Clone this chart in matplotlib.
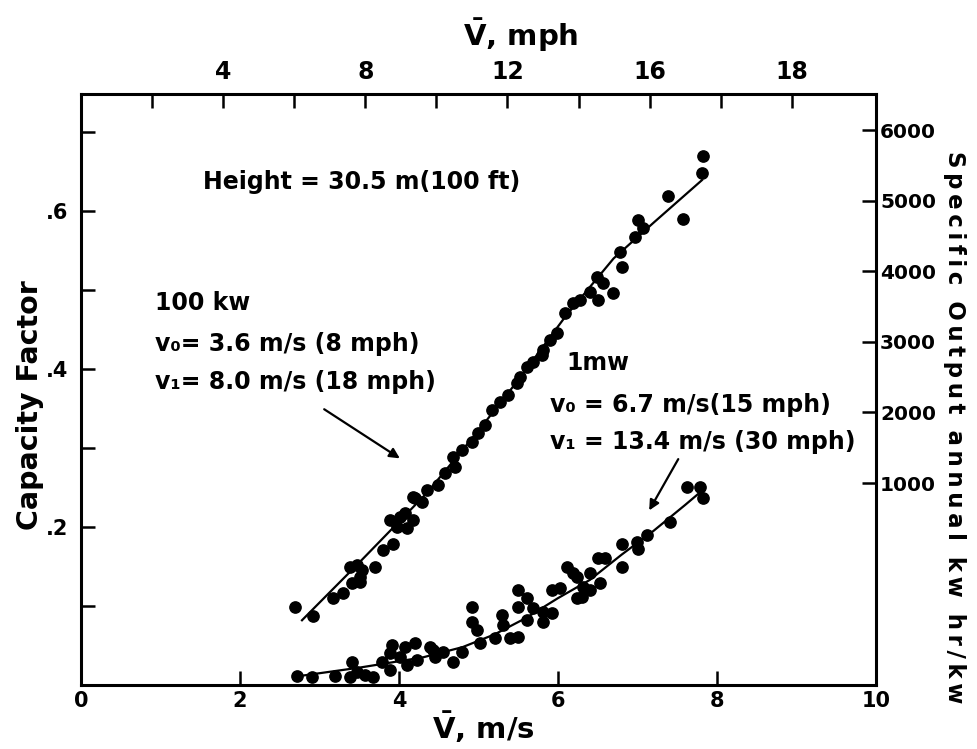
import matplotlib.pyplot as plt

# capacity factor vs mean wind speed
upper_x = [2.69, 2.92, 3.17, 3.30, 3.41, 3.51, 3.38, 3.47, 3.53, 3.70, 3.51, 3.80, 3.93,
           3.89, 3.97, 4.08, 4.18, 4.10, 4.20, 4.29, 4.35, 4.01, 4.18, 4.49, 4.58, 4.68,
           4.70, 4.79, 4.92, 5.00, 5.08, 5.17, 5.27, 5.37, 5.48, 5.52, 5.61, 5.69, 5.81,
           5.80, 5.90, 5.99, 6.09, 6.19, 6.28, 6.40, 6.50, 6.49, 6.57, 6.69, 6.78, 6.80,
           6.97, 7.01, 7.07, 7.38, 7.57, 7.81, 7.82]
upper_y = [0.099, 0.087, 0.110, 0.117, 0.129, 0.130, 0.149, 0.152, 0.146, 0.149, 0.137, 0.171, 0.178,
           0.209, 0.200, 0.218, 0.209, 0.199, 0.237, 0.232, 0.247, 0.213, 0.238, 0.253, 0.268, 0.289,
           0.276, 0.297, 0.308, 0.319, 0.329, 0.348, 0.358, 0.367, 0.382, 0.390, 0.403, 0.409, 0.424,
           0.418, 0.437, 0.446, 0.471, 0.483, 0.487, 0.497, 0.487, 0.516, 0.509, 0.496, 0.548, 0.529,
           0.567, 0.589, 0.578, 0.619, 0.590, 0.648, 0.670]

lower_x = [2.72, 2.91, 3.19, 3.41, 3.38, 3.47, 3.57, 3.67, 3.79, 3.89, 3.91, 3.89, 4.08,
           4.20, 4.10, 4.01, 4.23, 4.39, 4.45, 4.43, 4.55, 4.68, 4.79, 4.92, 4.92, 4.98,
           5.02, 5.21, 5.29, 5.31, 5.40, 5.50, 5.50, 5.50, 5.61, 5.61, 5.69, 5.81, 5.81,
           5.92, 5.92, 6.03, 6.11, 6.19, 6.24, 6.24, 6.32, 6.30, 6.40, 6.40, 6.53, 6.50,
           6.59, 6.80, 6.80, 6.99, 7.01, 7.12, 7.41, 7.62, 7.79, 7.83]
lower_y = [0.011, 0.010, 0.011, 0.029, 0.010, 0.016, 0.013, 0.010, 0.029, 0.019, 0.051, 0.041, 0.048,
           0.053, 0.025, 0.035, 0.032, 0.048, 0.035, 0.044, 0.042, 0.029, 0.042, 0.099, 0.080, 0.070,
           0.053, 0.059, 0.089, 0.076, 0.059, 0.120, 0.099, 0.061, 0.110, 0.082, 0.097, 0.080, 0.092,
           0.120, 0.091, 0.123, 0.149, 0.142, 0.110, 0.137, 0.124, 0.111, 0.142, 0.120, 0.129, 0.161,
           0.161, 0.178, 0.149, 0.181, 0.172, 0.190, 0.206, 0.251, 0.251, 0.237]

# hand drawn curves through the points
upper_fit_x = [2.78, 3.5, 4.35, 5.0, 5.5, 6.09, 6.7, 7.2, 7.81]
upper_fit_y = [0.082, 0.155, 0.243, 0.322, 0.386, 0.466, 0.540, 0.585, 0.639]
lower_fit_x = [2.72, 3.5, 4.3, 4.8, 5.2, 5.6, 6.0, 6.4, 6.8, 7.2, 7.6, 7.8]
lower_fit_y = [0.011, 0.022, 0.035, 0.048, 0.064, 0.085, 0.110, 0.133, 0.165, 0.195, 0.228, 0.245]

bottom_ticks = [0, 2, 4, 6, 8, 10]
left_ticks = [0.1, 0.2, 0.3, 0.4, 0.5, 0.6, 0.7]
left_labels = ['', '.2', '', '.4', '', '.6', '']
mph_ticks = [2, 4, 6, 8, 10, 12, 14, 16, 18, 20]
mph_labels = ['', '4', '', '8', '', '12', '', '16', '', '18']
kwh_ticks = [1000, 2000, 3000, 4000, 5000, 6000]


def tracked(s):
    # the scan uses wide letter spacing; thin spaces between letters, wider gaps between words
    return '  '.join('\u2009'.join(w) for w in s.split())


fig = plt.figure(figsize=(9.78, 7.49), dpi=100)
ax = fig.add_axes([0.0828, 0.0854, 0.8129, 0.789])

ax.plot(upper_fit_x, upper_fit_y, color='black', lw=1.6)
ax.plot(lower_fit_x, lower_fit_y, color='black', lw=1.6)
ax.scatter(upper_x, upper_y, s=66, color='black', zorder=3)
ax.scatter(lower_x, lower_y, s=66, color='black', zorder=3)

ax.set_xlim(0, 10)
ax.set_ylim(0, 0.748)
for sp in ax.spines.values():
    sp.set_linewidth(2.2)

ax.set_xticks(bottom_ticks)
ax.set_xticklabels([str(t) for t in bottom_ticks])
ax.set_yticks(left_ticks)
ax.set_yticklabels(left_labels)
ax.tick_params(axis='both', direction='in', length=10, width=1.8, labelsize=15, pad=4)
ax.tick_params(axis='y', pad=9)
for lab in ax.get_xticklabels() + ax.get_yticklabels():
    lab.set_fontweight('bold')

# top axis in mph (the last label reads 18 in the original)
top = ax.secondary_xaxis('top', functions=(lambda v: v / 0.44704, lambda v: v * 0.44704))
top.set_xticks(mph_ticks)
top.set_xticklabels(mph_labels)
top.tick_params(direction='in', length=10, width=1.8, pad=7)
for lab in top.get_xticklabels():
    lab.set_fontweight('bold')
    lab.set_fontsize(17)

# right axis, specific output
right = ax.secondary_yaxis('right', functions=(lambda c: c * 11191 - 1861, lambda k: (k + 1861) / 11191))
right.set_yticks(kwh_ticks)
right.set_yticklabels([str(t) for t in kwh_ticks])
right.tick_params(direction='in', length=10, width=1.8, pad=3, labelsize=14.5)
for lab in right.get_yticklabels():
    lab.set_fontweight('bold')

tkw = dict(fontsize=17, fontweight='bold', va='center', ha='left')
ax.text(1.53, 0.637, 'Height = 30.5 m(100 ft)', **tkw)
ax.text(0.93, 0.484, '100 kw', **tkw)
ax.text(0.93, 0.432, 'v\u2080= 3.6 m/s (8 mph)', **tkw)
ax.text(0.93, 0.384, 'v\u2081= 8.0 m/s (18 mph)', **tkw)
ax.text(6.11, 0.408, '1mw', **tkw)
ax.text(5.90, 0.354, 'v\u2080 = 6.7 m/s(15 mph)', **tkw)
ax.text(5.90, 0.308, 'v\u2081 = 13.4 m/s (30 mph)', **tkw)

ax.annotate('', xy=(4.04, 0.285), xytext=(3.03, 0.351),
            arrowprops=dict(arrowstyle='-|>', color='black', lw=1.6, mutation_scale=15))
ax.annotate('', xy=(7.13, 0.218), xytext=(7.53, 0.289),
            arrowprops=dict(arrowstyle='-|>', color='black', lw=1.6, mutation_scale=15))

fig.text(0.031, 0.459, 'Capacity Factor', rotation=90, ha='center', va='center',
         fontsize=20.5, fontweight='bold')
fig.text(0.494, 0.029, r'$\mathbf{\bar{V}}$, m/s', ha='center', va='center',
         fontsize=21, fontweight='bold')
fig.text(0.532, 0.953, r'$\mathbf{\bar{V}}$, mph', ha='center', va='center',
         fontsize=21, fontweight='bold')
fig.text(0.976, 0.429, tracked('Specific Output annual kw hr/kw'), rotation=-90,
         ha='center', va='center', fontsize=16.5, fontweight='bold')

plt.savefig('out.png', dpi=100)
